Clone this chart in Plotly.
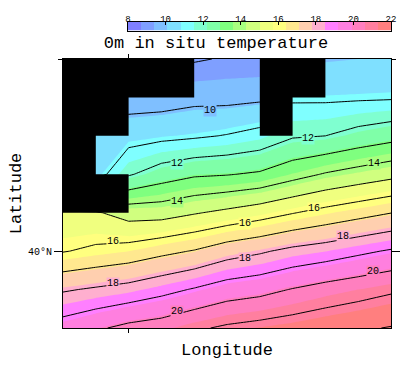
import plotly.graph_objects as go

lon = [18, 19, 20, 21, 22, 23, 24, 25, 26, 27, 28]
lat = [45, 44, 43, 42, 41, 40, 39, 38]
temp_45 = [8.0, 8.3, 8.5, 8.7, 8.93, 9.06, 9.03, 9.9, 10.03, 10.1, 10.15]
temp_44 = [9.0, 9.2, 9.53, 9.55, 9.73, 9.72, 9.82, 10.85, 10.84, 10.87, 10.9]
temp_43 = [10.0, 10.2, 10.6, 10.75, 10.87, 11.05, 11.33, 11.9, 12.0, 12.36, 12.65]
temp_42 = [10.4, 10.55, 11.9, 12.5, 12.86, 12.95, 13.13, 13.63, 14.08, 14.4, 14.71]
temp_41 = [15.2, 15.1, 14.6, 14.6, 14.92, 15.22, 15.55, 15.95, 16.32, 16.65, 16.98]
temp_40 = [15.95, 16.19, 16.4, 16.75, 17.06, 17.56, 17.87, 18.25, 18.48, 18.8, 19.1]
temp_39 = [17.9, 18.12, 18.34, 18.7, 19.08, 19.5, 19.7, 20.05, 20.36, 20.6, 20.86]
temp_38 = [19.45, 19.86, 20.25, 20.45, 20.85, 21.15, 21.33, 21.5, 21.7, 21.88, 22.05]
temperature = [temp_45, temp_44, temp_43, temp_42, temp_41, temp_40, temp_39, temp_38]

N = None
land = [
    [1, 1, 1, 1, N, N, 1, 1, N, N],
    [1, 1, N, N, N, N, 1, N, N, N],
    [1, N, N, N, N, N, N, N, N, N],
    [1, 1, N, N, N, N, N, N, N, N],
    [N] * 10, [N] * 10, [N] * 10,
]

band_colors = ["#7F7FFF", "#7F9FFF", "#7FBFFF", "#7FE0FF", "#7FFFFF", "#7FFFD0", "#7FFFA8",
               "#7FFF7F", "#A8FF7F", "#D0FF7F", "#F0FF7F", "#FFFF7F", "#FFE88F", "#FFCFAF",
               "#FFAFCF", "#FF7FFF", "#FF7FDF", "#FF7FBF", "#FF7F9F", "#FF7F7F"]
band_edges = [8 + 0.7 * i for i in range(21)]
bar_ticks = [8, 10, 12, 14, 16, 18, 20, 22]

label_text = [10, 12, 12, 14, 14, 16, 16, 16, 18, 18, 18, 20, 20]
label_lon = [22.48, 21.47, 25.47, 21.47, 27.48, 19.52, 25.65, 23.55, 19.52, 23.55, 26.53, 21.47, 27.45]
label_lat = [43.67, 42.27, 42.94, 41.3, 42.29, 40.24, 41.1, 40.73, 39.17, 39.82, 40.37, 38.42, 39.46]

FONT = "Liberation Mono"
n = len(band_colors)
scale = []
for i, c in enumerate(band_colors):
    scale += [[i / n, c], [(i + 1) / n, c]]

fig = go.Figure()
fig.add_trace(go.Contour(
    x=lon, y=lat, z=temperature, zmin=8, zmax=22, colorscale=scale, showscale=False,
    contours=dict(coloring="fill", start=8, end=22, size=0.7),
    line=dict(width=0, smoothing=0), hoverinfo="skip",
))
fig.add_trace(go.Contour(
    x=lon, y=lat, z=temperature, showscale=False, hoverinfo="skip",
    contours=dict(coloring="none", start=8, end=22, size=1),
    line=dict(color="black", width=1, smoothing=0),
))

# land cells: one filled rectangle for every flagged grid cell
land_x, land_y = [], []
for r, row in enumerate(land):
    for c, flag in enumerate(row):
        if flag:
            land_x += [lon[c], lon[c + 1], lon[c + 1], lon[c], lon[c], None]
            land_y += [lat[r], lat[r], lat[r + 1], lat[r + 1], lat[r], None]
fig.add_trace(go.Scatter(x=land_x, y=land_y, mode="lines", fill="toself", fillcolor="black",
                         line=dict(color="black", width=0), hoverinfo="skip", showlegend=False))

# colour key
fig.add_trace(go.Heatmap(
    x=band_edges, y=[0, 1], z=[[8.35 + 0.7 * i for i in range(n)]],
    zmin=8, zmax=22, colorscale=scale, showscale=False, hoverinfo="skip",
    xaxis="x2", yaxis="y2",
))

for t, x, y in zip(label_text, label_lon, label_lat):
    idx = int((t - 8) / 0.7)
    fig.add_annotation(x=x, y=y, text=str(t), showarrow=False, borderpad=0,
                       bgcolor=band_colors[idx],
                       font=dict(family=FONT, size=10, color="black"))

H = 328.0
fig.update_layout(
    width=416, height=368, autosize=False,
    margin=dict(l=63, r=25, t=0, b=40, autoexpand=False),
    paper_bgcolor="white", plot_bgcolor="white", showlegend=False,
    title=dict(text="0m in situ temperature", x=216 / 416, y=1 - 42 / 368,
               xanchor="center", yanchor="middle",
               font=dict(family=FONT, size=17, color="black")),
    xaxis=dict(
        domain=[0, 1], range=[18, 28], showgrid=False, zeroline=False, showline=True,
        linecolor="black", linewidth=1, mirror="ticks", ticks="outside", ticklen=4,
        tickcolor="black", tickvals=[20], showticklabels=False,
        title=dict(text="Longitude", standoff=11, font=dict(family=FONT, size=17, color="black")),
    ),
    yaxis=dict(
        domain=[0, 269 / H], range=[38, 45], showgrid=False, zeroline=False, showline=True,
        linecolor="black", linewidth=1, mirror="ticks", ticks="outside", ticklen=8,
        tickcolor="black", tickvals=[40], ticktext=["40°N"],
        tickfont=dict(family=FONT, size=10, color="black"),
        minor=dict(tickvals=[45], ticks="outside", ticklen=4, tickcolor="black"),
        title=dict(text="Latitude", standoff=2, font=dict(family=FONT, size=17, color="black")),
    ),
    xaxis2=dict(
        domain=[65 / 328, 1], range=[8, 22], anchor="y2", side="top", showgrid=False,
        zeroline=False, showline=True, linecolor="black", linewidth=1, mirror=True,
        ticks="inside", ticklen=3, tickcolor="black", tickvals=bar_ticks,
        ticklabelstandoff=-5, tickfont=dict(family=FONT, size=9, color="black"),
    ),
    yaxis2=dict(
        domain=[(H - 30.5) / H, (H - 21.5) / H], range=[0, 1], anchor="x2", showgrid=False,
        zeroline=False, showline=True, linecolor="black", linewidth=1, mirror=True,
        showticklabels=False, ticks="",
    ),
)
fig.write_html("out.html", config={"displayModeBar": False},
               post_script="document.body.style.margin='0';")
